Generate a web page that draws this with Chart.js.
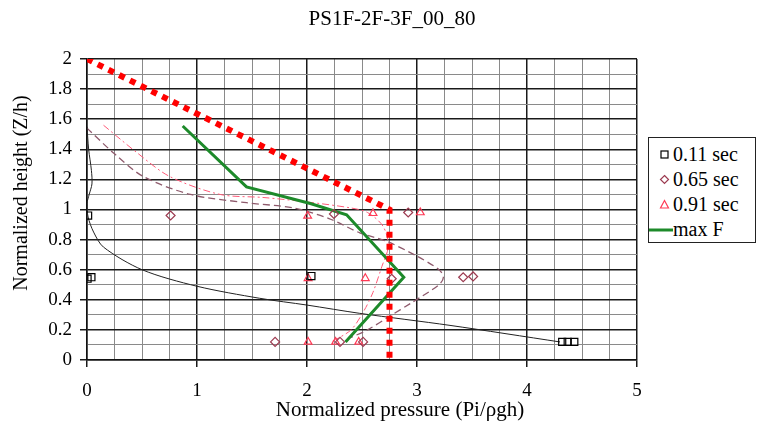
<!DOCTYPE html>
<html>
<head>
<meta charset="utf-8">
<script src="https://cdn.jsdelivr.net/npm/chart.js@4"></script>
<style>
  html, body { margin: 0; padding: 0; background: #fff; }
  #wrap { position: relative; width: 758px; height: 425px; font-family: "Liberation Serif", serif; }
  #legend { position: absolute; left: 648px; top: 137px; width: 108px; height: 106px; border: 1px solid #222; box-sizing: border-box; background: #fff; }
  .row { position: absolute; left: 0; width: 108px; height: 24px; line-height: 24px; font-size: 20px; color: #000; }
  .row svg { position: absolute; top: 5px; left: 8px; }
  .row span { position: absolute; left: 24px; }
</style>
</head>
<body>
<div id="wrap">
  <canvas id="chart" width="758" height="425"></canvas>
  <div id="legend"></div>
</div>
<script>
// title and axis labels
const chartTitle = 'PS1F-2F-3F_00_80';
const xTitle = 'Normalized pressure (Pi/ρgh)';
const yTitle = 'Normalized height (Z/h)';

// measured points
const sec011X = [0.01, 0.005, 0.04, 2.04, 4.32, 4.37, 4.43];
const sec011Y = [0.96, 0.54, 0.55, 0.558, 0.12, 0.12, 0.12];
const sec065X = [0.76, 2.245, 2.92, 2.77, 3.42, 3.51, 1.71, 2.3, 2.51];
const sec065Y = [0.96, 0.97, 0.98, 0.54, 0.55, 0.555, 0.12, 0.12, 0.12];
const sec091X = [2.006, 2.6, 3.03, 2.01, 2.53, 2.01, 2.26, 2.47];
const sec091Y = [0.957, 0.975, 0.98, 0.543, 0.543, 0.12, 0.12, 0.12];

// fitted curves
const fit011X = [0, 0.015, 0.04, 0.045, 0.02, 0, 0.01, 0.06, 0.15, 0.5, 1.0, 1.57, 2.0, 2.48, 3.3, 4.3];
const fit011Y = [1.55, 1.4, 1.26, 1.17, 1.1, 1.04, 0.95, 0.85, 0.75, 0.6, 0.49, 0.41, 0.365, 0.31, 0.23, 0.12];
const fit065X = [0, 0.25, 0.51, 0.94, 1.45, 1.88, 2.2, 2.48, 2.72, 3.0, 3.2, 3.24, 3.2, 2.95, 2.75, 2.55, 2.4];
const fit065Y = [1.54, 1.37, 1.22, 1.1, 1.045, 1.01, 0.94, 0.845, 0.79, 0.69, 0.6, 0.55, 0.5, 0.38, 0.29, 0.2, 0.15];
const fit091X = [0.15, 0.45, 0.75, 1.21, 1.6, 2.0, 2.4, 2.55, 2.69, 2.74, 2.68, 2.6, 2.52, 2.4, 2.22];
const fit091Y = [1.56, 1.38, 1.22, 1.1, 1.08, 1.05, 1.01, 0.98, 0.89, 0.76, 0.62, 0.45, 0.33, 0.2, 0.12];

// max F line and the red design envelope
const maxFX = [0.87, 1.45, 2.03, 2.36, 2.88, 2.35];
const maxFY = [1.555, 1.15, 1.04, 0.965, 0.55, 0.12];
const envX = [0, 2.75, 2.75];
const envY = [2, 1.0, 0];

const xTicks = [0, 1, 2, 3, 4, 5];
const yTicks = [0, 0.2, 0.4, 0.6, 0.8, 1, 1.2, 1.4, 1.6, 1.8, 2];

function pts(xs, ys) {
    return xs.map((x, i) => ({ x: x, y: ys[i] }));
}

const FONT = '"Liberation Serif", "Times New Roman", serif';

// draws the titles at their spots
const textPlugin = {
    id: 'texts',
    afterDraw(chart) {
        const c = chart.ctx;
        c.save();
        c.fillStyle = '#000';
        c.textAlign = 'center';
        c.textBaseline = 'middle';
        c.font = '21px ' + FONT;
        c.fillText(chartTitle, 392, 19);
        c.fillText(xTitle, 400, 410);
        c.font = '20px ' + FONT;
        c.translate(22, 193);
        c.rotate(-Math.PI / 2);
        c.fillText(yTitle, 0, 0);
        c.restore();
    }
};

const majorY = ctx => Math.abs(ctx.tick.value * 5 - Math.round(ctx.tick.value * 5)) < 1e-6;
const majorX = ctx => Math.abs(ctx.tick.value - Math.round(ctx.tick.value)) < 1e-6;

new Chart(document.getElementById('chart'), {
    type: 'scatter',
    data: {
        datasets: [
            { label: 'env', data: pts(envX, envY), showLine: true, borderColor: '#ff0000', borderWidth: 6,
              borderDash: [6, 6], pointRadius: 0, tension: 0 },
            { label: '0.11 sec', data: pts(sec011X, sec011Y), pointStyle: 'rect', pointRadius: 5,
              borderColor: '#000', backgroundColor: 'rgba(255,255,255,0)', borderWidth: 1.2 },
            { label: '0.65 sec', data: pts(sec065X, sec065Y), pointStyle: 'rectRot', pointRadius: 4.5,
              borderColor: '#9c3a50', backgroundColor: 'rgba(255,255,255,0)', borderWidth: 1.2 },
            { label: '0.91 sec', data: pts(sec091X, sec091Y), pointStyle: 'triangle', pointRadius: 4.5,
              borderColor: '#ff3a55', backgroundColor: 'rgba(255,255,255,0)', borderWidth: 1.2 },
            { label: 'max F', data: pts(maxFX, maxFY), showLine: true, borderColor: '#1d8a2a', borderWidth: 3,
              pointRadius: 0, tension: 0 },
            { label: 'fit011', data: pts(fit011X, fit011Y), showLine: true, borderColor: '#222', borderWidth: 1,
              pointRadius: 0, tension: 0.3 },
            { label: 'fit065', data: pts(fit065X, fit065Y), showLine: true, borderColor: '#8e5a6c', borderWidth: 1.3,
              borderDash: [7, 4], pointRadius: 0, tension: 0.3 },
            { label: 'fit091', data: pts(fit091X, fit091Y), showLine: true, borderColor: '#ff5a78', borderWidth: 1,
              borderDash: [7, 3, 2, 3], pointRadius: 0, tension: 0.3 }
        ]
    },
    options: {
        responsive: false,
        animation: false,
        devicePixelRatio: 1,
        layout: { padding: { left: 0, top: 59, right: 121, bottom: 0 } },
        plugins: { legend: { display: false }, tooltip: { enabled: false }, title: { display: false } },
        scales: {
            x: {
                type: 'linear', min: 0, max: 5,
                afterFit: s => { s.height = 65; },
                border: { display: true, color: '#111', width: 1.5 },
                grid: {
                    color: ctx => majorX(ctx) ? '#1a1a1a' : '#8a8a8a',
                    lineWidth: ctx => majorX(ctx) ? 1.5 : 1,
                    tickColor: ctx => majorX(ctx) ? '#1a1a1a' : 'rgba(0,0,0,0)',
                    tickLength: 7
                },
                ticks: {
                    stepSize: 0.25, autoSkip: false, maxRotation: 0, padding: 13,
                    color: '#000', font: { family: FONT, size: 19 },
                    callback: v => xTicks.some(t => Math.abs(t - v) < 1e-6) ? String(Math.round(v)) : ''
                }
            },
            y: {
                type: 'linear', min: 0, max: 2,
                afterFit: s => { s.width = 87; },
                border: { display: true, color: '#111', width: 1.5 },
                grid: {
                    color: ctx => majorY(ctx) ? '#1a1a1a' : '#8a8a8a',
                    lineWidth: ctx => majorY(ctx) ? 1.5 : 1,
                    tickColor: ctx => majorY(ctx) ? '#1a1a1a' : 'rgba(0,0,0,0)',
                    tickLength: 7
                },
                ticks: {
                    stepSize: 0.1, autoSkip: false, padding: 8,
                    color: '#000', font: { family: FONT, size: 19 },
                    callback: v => yTicks.some(t => Math.abs(t - v) < 1e-6) ? String(Math.round(v * 10) / 10) : ''
                }
            }
        }
    },
    plugins: [textPlugin]
});

// legend box, drawn as html
const legendItems = [
    { text: '0.11 sec', svg: '<rect x="4" y="4" width="7" height="7" fill="none" stroke="#000" stroke-width="1.2"/>' },
    { text: '0.65 sec', svg: '<polygon points="7.5,3.5 11.5,7.5 7.5,11.5 3.5,7.5" fill="none" stroke="#9c3a50" stroke-width="1.2"/>' },
    { text: '0.91 sec', svg: '<polygon points="7.5,3.5 11.5,11 3.5,11" fill="none" stroke="#ff3a55" stroke-width="1.2"/>' },
    { text: 'max F', svg: '<line x1="-8" y1="8" x2="16" y2="8" stroke="#1d8a2a" stroke-width="3"/>' }
];
const rowTops = [4, 29, 54, 79];
const legend = document.getElementById('legend');
legendItems.forEach((it, i) => {
    const row = document.createElement('div');
    row.className = 'row';
    row.style.top = rowTops[i] + 'px';
    row.innerHTML = '<svg width="15" height="15" style="overflow:visible">' + it.svg + '</svg><span>' + it.text + '</span>';
    legend.appendChild(row);
});
</script>
</body>
</html>
